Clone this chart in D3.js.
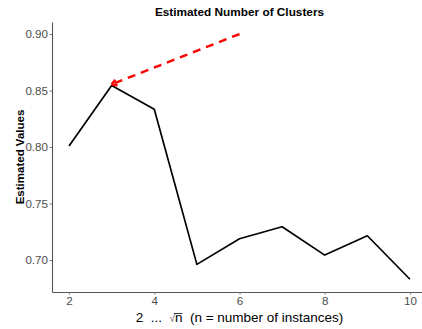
<!DOCTYPE html>
<html>
<head>
<meta charset="utf-8">
<script src="https://cdn.jsdelivr.net/npm/d3@7"></script>
<style>
  body { margin: 0; background: #fff; }
  text { font-family: "Liberation Sans", Arial, sans-serif; }
</style>
</head>
<body>
<div id="chart"></div>
<script>
// chart data
const kValues = [2, 3, 4, 5, 6, 7, 8, 9, 10];
const estimated = [0.801, 0.8545, 0.8335, 0.6962, 0.7189, 0.7295, 0.7044, 0.7215, 0.6830];
const xTicks = [2, 4, 6, 8, 10];
const yTicks = [0.70, 0.75, 0.80, 0.85, 0.90];
const arrowFrom = [6, 0.90];
const arrowTo = [3, 0.8555];

const width = 422, height = 329;
const margin = { top: 22, right: -5, bottom: 37, left: 52 };

const svg = d3.select('#chart')
    .append('svg')
    .attr('width', width)
    .attr('height', height);

// ggplot-like 5% expansion
const xMin = 2, xMax = 10;
const xPad = (xMax - xMin) * 0.05;
const yMin = 0.6826, yMax = 0.8998;
const yPad = (yMax - yMin) * 0.05;

const x = d3.scaleLinear()
    .domain([xMin - xPad, xMax + xPad])
    .range([margin.left, width - margin.right]);

const y = d3.scaleLinear()
    .domain([yMin - yPad, yMax + yPad])
    .range([height - margin.bottom, margin.top]);

const axisColor = '#4d4d4d';

function styleAxis(g) {
    g.select('.domain').attr('stroke', '#555').attr('stroke-width', 1.1);
    g.selectAll('.tick line').attr('stroke', '#777');
    g.selectAll('.tick text')
        .attr('fill', axisColor)
        .style('font-size', '11.6px')
        .style('font-family', '"Liberation Sans", Arial, sans-serif');
}

// x axis
svg.append('g')
    .attr('transform', `translate(0,${height - margin.bottom})`)
    .call(d3.axisBottom(x).tickValues(xTicks).tickSizeInner(2.5).tickSizeOuter(0)
        .tickPadding(2).tickFormat(d3.format('d')))
    .call(styleAxis);

// y axis
svg.append('g')
    .attr('transform', `translate(${margin.left},0)`)
    .call(d3.axisLeft(y).tickValues(yTicks).tickSizeInner(2.5).tickSizeOuter(0)
        .tickPadding(1.5).tickFormat(d3.format('.2f')))
    .call(styleAxis);

// line
const line = d3.line()
    .x((d, i) => x(kValues[i]))
    .y(d => y(d));

svg.append('path')
    .datum(estimated)
    .attr('fill', 'none')
    .attr('stroke', '#000')
    .attr('stroke-width', 1.7)
    .attr('stroke-linejoin', 'round')
    .attr('d', line);

// arrow (dashed, red, open head)
const ax1 = x(arrowFrom[0]), ay1 = y(arrowFrom[1]);
const ax2 = x(arrowTo[0]), ay2 = y(arrowTo[1]);
svg.append('line')
    .attr('x1', ax1).attr('y1', ay1)
    .attr('x2', ax2).attr('y2', ay2)
    .attr('stroke', '#ff0000')
    .attr('stroke-width', 2.4)
    .attr('stroke-dasharray', '8,6');

const ang = Math.atan2(ay1 - ay2, ax1 - ax2);
const headLen = 9, headAng = Math.PI / 6;
[ang + headAng, ang - headAng].forEach(a => {
    svg.append('line')
        .attr('x1', ax2).attr('y1', ay2)
        .attr('x2', ax2 + headLen * Math.cos(a))
        .attr('y2', ay2 + headLen * Math.sin(a))
        .attr('stroke', '#ff0000')
        .attr('stroke-width', 2.4)
        .attr('stroke-dasharray', '6,4');
});

// title
const panelCx = (x.range()[0] + x.range()[1]) / 2;
svg.append('text')
    .attr('x', panelCx)
    .attr('y', 16)
    .attr('text-anchor', 'middle')
    .style('font-size', '11.8px')
    .style('font-weight', 'bold')
    .attr('fill', '#000')
    .text('Estimated Number of Clusters');

// y label
const panelCy = (y.range()[0] + y.range()[1]) / 2;
svg.append('text')
    .attr('transform', `translate(24,${panelCy}) rotate(-90)`)
    .attr('text-anchor', 'middle')
    .style('font-size', '11.5px')
    .style('font-weight', 'bold')
    .attr('fill', '#000')
    .text('Estimated Values');

// x label with sqrt(n)
const xlY = 321.5;
const xl = svg.append('text')
    .attr('x', panelCx)
    .attr('y', xlY)
    .attr('text-anchor', 'middle')
    .style('font-size', '13.5px')
    .attr('fill', '#000')
    .attr('xml:space', 'preserve');
xl.append('tspan').text('2  ...  ');
xl.append('tspan').style('font-size', '10px').attr('fill', '#555').text('√');
xl.append('tspan').text('n');
xl.append('tspan').text('  (n = number of instances)');

// bar over the n of the root sign
const nExt = xl.node().getExtentOfChar(9);
const rootExt = xl.node().getExtentOfChar(8);
svg.append('line')
    .attr('x1', rootExt.x + rootExt.width - 1)
    .attr('x2', nExt.x + nExt.width)
    .attr('y1', xlY - 8)
    .attr('y2', xlY - 8)
    .attr('stroke', '#333')
    .attr('stroke-width', 1);
</script>
</body>
</html>
